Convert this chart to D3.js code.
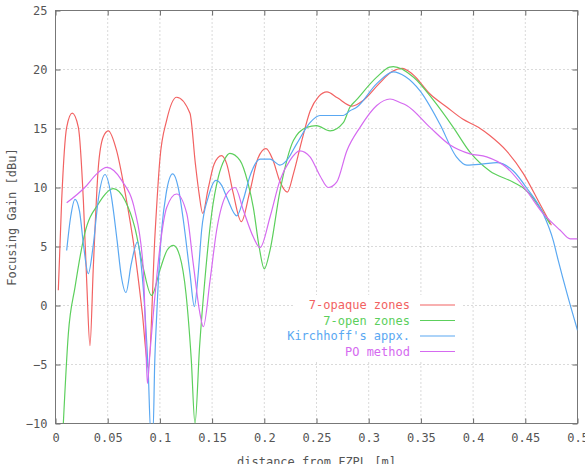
<!DOCTYPE html>
<html>
<head>
<meta charset="utf-8">
<script src="https://cdn.jsdelivr.net/npm/d3@7"></script>
<style>
  body { margin: 0; background: #fff; }
  svg text { font-family: "DejaVu Sans Mono", monospace; }
</style>
</head>
<body>
<div id="chart"></div>
<script>
// series names + colours (gnuplot style)
var seriesNames = ["7-opaque zones", "7-open zones", "Kirchhoff's appx.", "PO method"];
var seriesColors = ["#f26262", "#5ccf5c", "#5aa8f2", "#d56af0"];

var xTicks = [0, 0.05, 0.1, 0.15, 0.2, 0.25, 0.3, 0.35, 0.4, 0.45, 0.5];
var yTicks = [-10, -5, 0, 5, 10, 15, 20, 25];

// [distance m, gain dBu]
var opaqueZones = [[0.0027, 1.3], [0.0059, 8.9], [0.0107, 15.1], [0.016, 16.3], [0.0219, 15.1], [0.0267, 8.9],
  [0.030, 1.8], [0.033, -3.4], [0.0362, 3.2], [0.041, 11.7], [0.0458, 14.3], [0.0506, 14.8], [0.0586, 13.1],
  [0.0666, 9.6], [0.076, 4.5], [0.083, -0.5], [0.089, -5.3], [0.0953, 6.0], [0.100, 12.4], [0.1065, 15.7],
  [0.116, 17.65], [0.1288, 16.3], [0.134, 12.0], [0.1375, 9.5], [0.141, 7.8], [0.146, 9.8], [0.152, 12.0],
  [0.159, 12.7], [0.164, 12.0], [0.170, 9.6], [0.178, 7.1], [0.186, 9.6], [0.194, 12.5], [0.2016, 13.3],
  [0.208, 12.4], [0.215, 10.5], [0.222, 9.6], [0.228, 11.2], [0.236, 14.0], [0.244, 16.5], [0.252, 17.7],
  [0.260, 18.1], [0.270, 17.6], [0.284, 16.9], [0.295, 17.4], [0.310, 18.8], [0.322, 19.8], [0.332, 20.1],
  [0.342, 19.6], [0.359, 17.9], [0.375, 16.8], [0.390, 15.8], [0.405, 15.1], [0.416, 14.4], [0.432, 13.1],
  [0.448, 11.2], [0.464, 8.6], [0.475, 6.8]];

var openZones = [[0.0075, -10], [0.0123, -2.4], [0.0187, 1.55], [0.028, 6.1], [0.041, 8.6], [0.0554, 9.9],
  [0.0666, 8.9], [0.076, 6.6], [0.084, 3.2], [0.092, 0.85], [0.100, 3.0], [0.107, 4.7], [0.113, 5.1],
  [0.119, 4.2], [0.125, 1.0], [0.130, -4.5], [0.1336, -10], [0.138, -3.5], [0.143, 2.1], [0.1496, 7.8],
  [0.156, 10.9], [0.162, 12.4], [0.167, 12.9], [0.1767, 12.3], [0.184, 10.5], [0.1895, 8.3], [0.195, 5.0],
  [0.200, 3.1], [0.2055, 4.7], [0.215, 9.7], [0.228, 14.0], [0.2406, 15.1], [0.250, 15.25], [0.263, 14.8],
  [0.2757, 15.5], [0.282, 16.8], [0.288, 17.4], [0.3077, 19.35], [0.320, 20.2], [0.3236, 20.25], [0.343, 19.35],
  [0.362, 17.4], [0.381, 15.1], [0.397, 13.0], [0.416, 11.4], [0.4385, 10.45], [0.451, 9.75], [0.464, 8.3],
  [0.4737, 6.9]];

var kirchhoff = [[0.0107, 4.66], [0.0145, 7.5], [0.0187, 9.0], [0.023, 8.0], [0.027, 5.0], [0.0314, 2.7],
  [0.036, 5.0], [0.041, 9.0], [0.0474, 11.1], [0.053, 9.5], [0.059, 5.5], [0.063, 2.5], [0.0675, 1.1],
  [0.0725, 3.5], [0.0785, 5.4], [0.082, 3.5], [0.086, -1.0], [0.089, -6.0], [0.091, -10.5], [0.0935, -10.5],
  [0.095, -5.0], [0.097, -0.7], [0.1017, 6.4], [0.106, 9.5], [0.1122, 11.15], [0.118, 9.8], [0.1225, 7.2],
  [0.1288, 2.7], [0.133, -0.1], [0.1365, 2.5], [0.140, 6.4], [0.1464, 9.2], [0.1537, 10.6], [0.159, 10.2],
  [0.164, 9.2], [0.1736, 7.6], [0.180, 9.0], [0.186, 10.9], [0.196, 12.4], [0.2055, 12.4], [0.215, 11.9],
  [0.2215, 12.3], [0.231, 13.7], [0.2438, 15.5], [0.2533, 16.1], [0.266, 16.1], [0.2757, 16.1], [0.282, 16.5],
  [0.2885, 16.8], [0.3077, 18.8], [0.3236, 19.8], [0.335, 19.4], [0.349, 18.2], [0.368, 15.4], [0.384, 12.6],
  [0.394, 11.9], [0.410, 12.0], [0.4226, 12.1], [0.4385, 11.4], [0.451, 10.0], [0.467, 7.8], [0.4768, 5.5],
  [0.4816, 3.8], [0.490, 1.0], [0.500, -2.1]];

var poMethod = [[0.0107, 8.7], [0.028, 10.0], [0.040, 11.2], [0.049, 11.7], [0.0634, 10.6], [0.076, 8.05],
  [0.084, 3.2], [0.086, -1.5], [0.088, -6.6], [0.0905, -4.0], [0.0937, -0.7], [0.100, 4.9], [0.1065, 8.3],
  [0.116, 9.45], [0.1257, 7.8], [0.132, 3.5], [0.1384, -0.7], [0.1416, -1.8], [0.148, 2.1], [0.1544, 6.4],
  [0.164, 9.45], [0.172, 10.0], [0.180, 8.05], [0.1895, 5.8], [0.196, 4.9], [0.2055, 7.5], [0.215, 10.6],
  [0.2246, 12.3], [0.234, 13.1], [0.2438, 12.6], [0.2533, 11.0], [0.2613, 10.0], [0.2693, 10.45], [0.279, 13.1],
  [0.2917, 15.1], [0.3077, 16.95], [0.3204, 17.5], [0.330, 17.2], [0.3364, 16.95], [0.3587, 15.1], [0.378, 13.6],
  [0.397, 12.85], [0.413, 12.6], [0.432, 11.7], [0.451, 9.75], [0.467, 7.8], [0.4832, 6.4], [0.493, 5.65],
  [0.500, 5.65]];

var allSeries = [opaqueZones, openZones, kirchhoff, poMethod];

var width = 585, height = 464;
var margin = {left: 55.5, right: 7.5, top: 10.5, bottom: 40.5};

var svg = d3.select("#chart").append("svg")
    .attr("width", width).attr("height", height);

var x = d3.scaleLinear().domain([0, 0.5]).range([margin.left, width - margin.right]);
var y = d3.scaleLinear().domain([-10, 25]).range([height - margin.bottom, margin.top]);

svg.append("defs").append("clipPath").attr("id", "plotclip")
    .append("rect")
    .attr("x", x(0)).attr("y", y(25))
    .attr("width", x(0.5) - x(0)).attr("height", y(-10) - y(25));

// dotted grid
var grid = svg.append("g");
grid.selectAll("line.gx").data(xTicks.slice(1, -1)).enter().append("line")
    .attr("x1", function(d) { return x(d); }).attr("x2", function(d) { return x(d); })
    .attr("y1", y(-10)).attr("y2", y(25))
    .attr("stroke", "#b4b4b4").attr("stroke-dasharray", "1,3");
grid.selectAll("line.gy").data(yTicks.slice(1, -1)).enter().append("line")
    .attr("y1", function(d) { return y(d); }).attr("y2", function(d) { return y(d); })
    .attr("x1", x(0)).attr("x2", x(0.5))
    .attr("stroke", "#b4b4b4").attr("stroke-dasharray", "1,3");

// axes: ticks pointing inward, mirrored on top/right
var tickFmt = function(d) { return d3.format("")(d); };
var xAxis = svg.append("g").attr("transform", "translate(0," + y(-10) + ")")
    .call(d3.axisBottom(x).tickValues(xTicks).tickSizeInner(-5).tickSizeOuter(0).tickPadding(10).tickFormat(tickFmt));
var yAxis = svg.append("g").attr("transform", "translate(" + x(0) + ",0)")
    .call(d3.axisLeft(y).tickValues(yTicks).tickSizeInner(-5).tickSizeOuter(0).tickPadding(8).tickFormat(tickFmt));
svg.append("g").attr("transform", "translate(0," + y(25) + ")")
    .call(d3.axisTop(x).tickValues(xTicks).tickSizeInner(-5).tickSizeOuter(0).tickFormat(""));
svg.append("g").attr("transform", "translate(" + x(0.5) + ",0)")
    .call(d3.axisRight(y).tickValues(yTicks).tickSizeInner(-5).tickSizeOuter(0).tickFormat(""));

svg.selectAll(".domain").remove();
svg.selectAll(".tick line").attr("stroke", "#666");
svg.selectAll(".tick text").attr("fill", "#555").style("font-size", "12px");

// frame
svg.append("rect")
    .attr("x", x(0)).attr("y", y(25))
    .attr("width", x(0.5) - x(0)).attr("height", y(-10) - y(25))
    .attr("fill", "none").attr("stroke", "#777").attr("stroke-width", 1);

// curves
var line = d3.line()
    .x(function(d) { return x(d[0]); })
    .y(function(d) { return y(d[1]); })
    .curve(d3.curveMonotoneX);

var curves = svg.append("g").attr("clip-path", "url(#plotclip)");
allSeries.forEach(function(s, i) {
    curves.append("path")
        .datum(s)
        .attr("d", line)
        .attr("fill", "none")
        .attr("stroke", seriesColors[i])
        .attr("stroke-width", 1.2);
});

// legend, opaque box like gnuplot "key opaque"
var legendTop = 305, legendStep = 15.5;
svg.append("rect")
    .attr("x", 293).attr("y", legendTop - 10)
    .attr("width", 168).attr("height", legendStep * 4 + 4)
    .attr("fill", "#fff");
var legend = svg.append("g");
seriesNames.forEach(function(name, i) {
    var ly = legendTop + i * legendStep;
    legend.append("text")
        .attr("x", 410).attr("y", ly).attr("dy", "0.35em")
        .attr("text-anchor", "end")
        .attr("fill", seriesColors[i])
        .style("font-size", "12px")
        .text(name);
    legend.append("line")
        .attr("x1", 420).attr("x2", 455)
        .attr("y1", ly).attr("y2", ly)
        .attr("stroke", seriesColors[i]).attr("stroke-width", 1.2);
});

// axis titles
svg.append("text")
    .attr("transform", "translate(12," + y(7.5) + ") rotate(-90)")
    .attr("text-anchor", "middle").attr("dy", "0.35em")
    .attr("fill", "#555").style("font-size", "12px")
    .text("Focusing Gain [dBu]");
svg.append("text")
    .attr("x", x(0.25)).attr("y", 462).attr("dy", "0.35em")
    .attr("text-anchor", "middle")
    .attr("fill", "#555").style("font-size", "12px")
    .text("distance from FZPL [m]");
</script>
</body>
</html>
